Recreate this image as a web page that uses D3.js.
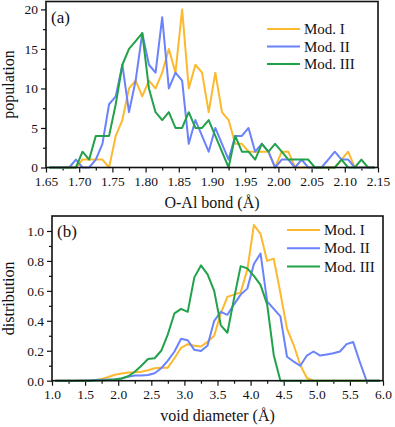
<!DOCTYPE html>
<html>
<head>
<meta charset="utf-8">
<title>O-Al bond and void diameter</title>
<script src="https://d3js.org/d3.v7.min.js"></script>
<style>
  body { margin: 0; background: #fff; }
  text { font-family: "Liberation Serif", serif; fill: #111; }
</style>
</head>
<body>
<div id="chart"></div>
<script>
// ---- data: panel (a), O-Al bond length histogram (bin centres) ----
var bondX = [1.655,1.665,1.675,1.685,1.695,1.705,1.715,1.725,1.735,1.745,
             1.755,1.765,1.775,1.785,1.795,1.805,1.815,1.825,1.835,1.845,
             1.855,1.865,1.875,1.885,1.895,1.905,1.915,1.925,1.935,1.945,
             1.955,1.965,1.975,1.985,1.995,2.005,2.015,2.025,2.035,2.045,
             2.055,2.065,2.075,2.085,2.095,2.105,2.115,2.125,2.135,2.145];
var bondMod1 = [0,0,0,0,0,1,1,1,1,0, 4,6,10,11,9,11,10,12,15,12,
                20,10,13,12,7,12,7,6,3,3, 2,2,2,2,0,2,2,0,0,0, 0,0,0,0,1,2,0,0,0,0];
var bondMod2 = [0,0,0,0,1,0,0,1,3,8, 9,13,7,11,17,13,12,19,10,12,
                11,3,6,4,2,5,3,1,4,4, 5,2,3,2,0,1,1,0,1,0, 0,0,1,2,1,1,0,0,0,0];
var bondMod3 = [0,0,0,0,0,2,1,4,4,4, 8,13,15,16,17,10,7,6,7,5,
                5,7,5,5,6,4,2,0,4,2, 2,1,3,2,3,2,1,1,1,1, 0,0,0,0,1,0,0,1,0,0];

// ---- data: panel (b), void diameter distribution ----
var voidX = [1.05,1.15,1.25,1.35,1.45,1.55,1.65,1.75,1.85,1.95,
             2.05,2.15,2.25,2.35,2.45,2.55,2.65,2.75,2.85,2.95,
             3.05,3.15,3.25,3.35,3.45,3.55,3.65,3.75,3.85,3.95,
             4.05,4.15,4.25,4.35,4.45,4.55,4.65,4.75,4.85,4.95,
             5.05,5.15,5.25,5.35,5.45,5.55,5.65,5.75,5.85,5.95];
var voidMod1 = [0,0,0,0,0.001,0.002,0.005,0.012,0.025,0.04,
                0.048,0.054,0.056,0.06,0.07,0.083,0.087,0.087,0.15,0.22,
                0.244,0.233,0.228,0.26,0.30,0.45,0.56,0.575,0.59,0.74,
                1.04,0.98,0.80,0.815,0.586,0.347,0.24,0.105,0.018,0,
                0,0,0,0,0,0,0,0,0,0];
var voidMod2 = [0,0,0,0,0.001,0.002,0.004,0.006,0.008,0.01,
                0.015,0.027,0.034,0.034,0.038,0.05,0.083,0.134,0.195,0.28,
                0.27,0.206,0.198,0.235,0.40,0.46,0.44,0.51,0.575,0.615,
                0.78,0.85,0.53,0.48,0.43,0.16,0.128,0.10,0.168,0.195,
                0.168,0.175,0.183,0.195,0.244,0.258,0.125,0,0,0];
var voidMod3 = [0,0,0,0,0,0,0.002,0.003,0.005,0.008,
                0.015,0.03,0.06,0.1,0.145,0.15,0.2,0.31,0.45,0.48,
                0.46,0.69,0.77,0.71,0.6,0.37,0.32,0.55,0.765,0.75,
                0.70,0.64,0.51,0.17,0,0,0,0,0,0,
                0,0,0,0,0,0,0,0,0,0];

var seriesNames = ['Mod. I', 'Mod. II', 'Mod. III'];
var seriesColors = ['#fdb92e', '#6a82fb', '#21a24a'];

var bondTicks = [1.65,1.70,1.75,1.80,1.85,1.90,1.95,2.00,2.05,2.10,2.15];
var bondMinor = [1.675,1.725,1.775,1.825,1.875,1.925,1.975,2.025,2.075,2.125];
var popTicks = [0,5,10,15,20];
var popMinor = [2.5,7.5,12.5,17.5];
var voidTicks = [1.0,1.5,2.0,2.5,3.0,3.5,4.0,4.5,5.0,5.5,6.0];
var voidMinor = [1.25,1.75,2.25,2.75,3.25,3.75,4.25,4.75,5.25,5.75];
var distTicks = [0,0.2,0.4,0.6,0.8,1.0];
var distMinor = [0.1,0.3,0.5,0.7,0.9];

var width = 395, height = 427;

var svg = d3.select('#chart').append('svg')
  .attr('width', width)
  .attr('height', height);

function drawPanel(p) {
  var x = d3.scaleLinear().domain(p.xDomain).range([p.left, p.right]);
  var y = d3.scaleLinear().domain(p.yDomain).range([p.bottom, p.top]);
  var g = svg.append('g');

  // minor ticks
  g.append('g')
    .attr('transform', 'translate(0,' + p.bottom + ')')
    .call(d3.axisBottom(x).tickValues(p.xMinor).tickSize(3).tickSizeOuter(0).tickFormat(''))
    .call(function(a){ a.select('.domain').remove(); });
  g.append('g')
    .attr('transform', 'translate(' + p.left + ',0)')
    .call(d3.axisLeft(y).tickValues(p.yMinor).tickSize(3).tickSizeOuter(0).tickFormat(''))
    .call(function(a){ a.select('.domain').remove(); });

  // major ticks
  var xa = g.append('g')
    .attr('transform', 'translate(0,' + p.bottom + ')')
    .call(d3.axisBottom(x).tickValues(p.xTicks).tickSize(5).tickPadding(4)
      .tickSizeOuter(0).tickFormat(d3.format(p.xFmt)));
  xa.select('.domain').remove();
  var ya = g.append('g')
    .attr('transform', 'translate(' + p.left + ',0)')
    .call(d3.axisLeft(y).tickValues(p.yTicks).tickSize(5).tickPadding(3)
      .tickSizeOuter(0).tickFormat(d3.format(p.yFmt)));
  ya.select('.domain').remove();
  g.selectAll('g').attr('font-family', null);
  g.selectAll('.tick line').attr('stroke', '#111').attr('stroke-width', 1.2);
  g.selectAll('.tick text')
    .style('font-family', '"Liberation Serif", serif')
    .style('font-size', '13.5px')
    .style('fill', '#111');

  // lines
  var line = d3.line()
    .x(function(d){ return x(d[0]); })
    .y(function(d){ return y(d[1]); });
  p.series.forEach(function(s, i) {
    g.append('path')
      .datum(p.xs.map(function(v, j){ return [v, s[j]]; }))
      .attr('d', line)
      .attr('fill', 'none')
      .attr('stroke', seriesColors[i])
      .attr('stroke-width', 2)
      .attr('stroke-linejoin', 'round');
  });

  // frame
  g.append('rect')
    .attr('x', p.left).attr('y', p.top)
    .attr('width', p.right - p.left).attr('height', p.bottom - p.top)
    .attr('fill', 'none').attr('stroke', '#111').attr('stroke-width', 1.6);

  // panel tag
  g.append('text')
    .attr('x', p.left + 5).attr('y', p.top + 21)
    .attr('font-size', 17)
    .text(p.tag);

  // legend
  seriesNames.forEach(function(name, i) {
    var ly = p.legendY + i * p.legendGap;
    g.append('line')
      .attr('x1', p.legendX).attr('x2', p.legendX + 33)
      .attr('y1', ly).attr('y2', ly)
      .attr('stroke', seriesColors[i]).attr('stroke-width', 2);
    g.append('text')
      .attr('x', p.legendX + 37).attr('y', ly + 5)
      .attr('font-size', 15)
      .text(name);
  });

  // axis titles
  g.append('text')
    .attr('x', (p.left + p.right) / 2).attr('y', p.xLabelY)
    .attr('text-anchor', 'middle')
    .attr('font-size', 16)
    .text(p.xLabel);
  g.append('text')
    .attr('transform', 'translate(14,' + (p.top + p.bottom) / 2 + ') rotate(-90)')
    .attr('text-anchor', 'middle')
    .attr('font-size', 16)
    .text(p.yLabel);
}

drawPanel({
  left: 46, right: 378, top: 1.5, bottom: 167.5,
  xDomain: [1.65, 2.15], yDomain: [0, 21],
  xTicks: bondTicks, xMinor: bondMinor, yTicks: popTicks, yMinor: popMinor,
  xFmt: '.2f', yFmt: 'd',
  xs: bondX, series: [bondMod1, bondMod2, bondMod3],
  tag: '(a)', legendX: 267, legendY: 29, legendGap: 17.5,
  xLabel: 'O-Al bond (\u00C5)', xLabelY: 208, yLabel: 'population'
});

drawPanel({
  left: 52, right: 383, top: 216, bottom: 380.7,
  xDomain: [1.0, 6.0], yDomain: [0, 1.1],
  xTicks: voidTicks, xMinor: voidMinor, yTicks: distTicks, yMinor: distMinor,
  xFmt: '.1f', yFmt: '.1f',
  xs: voidX, series: [voidMod1, voidMod2, voidMod3],
  tag: '(b)', legendX: 287, legendY: 230, legendGap: 18.3,
  xLabel: 'void diameter (\u00C5)', xLabelY: 421, yLabel: 'distribution'
});
</script>
</body>
</html>
